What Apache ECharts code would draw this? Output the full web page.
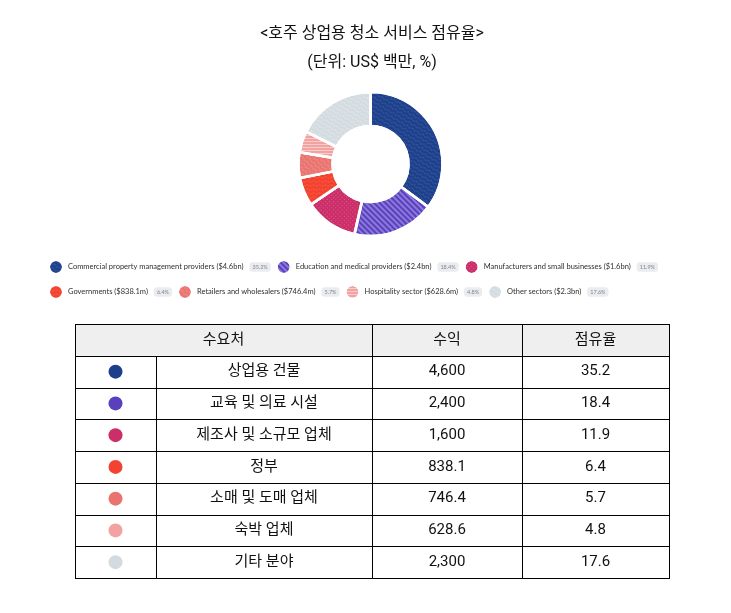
<!DOCTYPE html>
<html>
<head>
<meta charset="utf-8">
<script src="https://cdn.jsdelivr.net/npm/echarts@6/dist/echarts.min.js"></script>
<style>
html,body{margin:0;padding:0;background:#fff;}
#chart{width:731px;height:613px;}
</style>
</head>
<body>
<div id="chart"></div>
<script>
// ---------- DATA ----------
const titleText = '<호주 상업용 청소 서비스 점유율>';
const subtitleText = '(단위: US$ 백만, %)';
const categories = ['상업용 건물', '교육 및 의료 시설', '제조사 및 소규모 업체', '정부', '소매 및 도매 업체', '숙박 업체', '기타 분야'];
const legendLabels = [
  'Commercial property management providers ($4.6bn)',
  'Education and medical providers ($2.4bn)',
  'Manufacturers and small businesses ($1.6bn)',
  'Governments ($838.1m)',
  'Retailers and wholesalers ($746.4m)',
  'Hospitality sector ($628.6m)',
  'Other sectors ($2.3bn)'
];
const revenue = [4600, 2400, 1600, 838.1, 746.4, 628.6, 2300];
const share = [35.2, 18.4, 11.9, 6.4, 5.7, 4.8, 17.6];
const headers = ['수요처', '수익', '점유율'];

// ---------- STYLE ----------
const colors = ['#1d3e88', '#5a40bd', '#cb2e69', '#f3422f', '#e9736f', '#f2a2a1', '#d3dbe0'];
const decals = [
  { symbol: 'path://M0,4 Q2.5,0 5,4 T10,4', symbolSize: 1, dashArrayX: [6, 0], dashArrayY: [3, 1], color: 'rgba(120,160,230,0.35)' },
  { symbol: 'rect', symbolSize: 1, dashArrayX: [1, 0], dashArrayY: [1.5, 2], rotation: Math.PI / 4, color: 'rgba(200,190,255,0.45)' },
  { symbol: 'rect', symbolSize: 1, dashArrayX: [1, 1.5], dashArrayY: [1, 1.5], color: 'rgba(255,180,210,0.35)' },
  { symbol: 'path://M0,4 Q2.5,0 5,4 T10,4', symbolSize: 1, dashArrayX: [6, 0], dashArrayY: [3, 1], color: 'rgba(255,140,120,0.35)' },
  { symbol: 'path://M0,4 Q2.5,0 5,4 T10,4', symbolSize: 1, dashArrayX: [6, 0], dashArrayY: [3, 1], color: 'rgba(255,200,195,0.4)' },
  { symbol: 'rect', symbolSize: 1, dashArrayX: [1, 0], dashArrayY: [1, 2], color: 'rgba(255,255,255,0.45)' },
  { symbol: 'path://M0,4 Q2.5,0 5,4 T10,4', symbolSize: 1, dashArrayX: [6, 0], dashArrayY: [3, 1], color: 'rgba(255,255,255,0.4)' }
];
const FONT = "Roboto, 'Noto Sans CJK KR', sans-serif";
const LEGEND_FONT = "Lato, 'Noto Sans', sans-serif";

function fmtRevenue(v) {
  return v >= 1000 ? v.toLocaleString('en-US') : v.toFixed(1);
}

const chart = echarts.init(document.getElementById('chart'), null, { renderer: 'canvas' });

// ---------- TABLE (graphic, built from data) ----------
const T = { left: 75, top: 324, rowH: 31.75, cols: [75, 156, 372, 522, 669] };
const nRows = categories.length + 1;
const tableBottom = T.top + T.rowH * nRows;
const g = [];
g.push({ type: 'rect', shape: { x: T.cols[0], y: T.top, width: T.cols[4] - T.cols[0], height: T.rowH }, style: { fill: '#efefef' }, z: 1 });
for (let i = 0; i <= nRows; i++) {
  const y = Math.round(T.top + T.rowH * i) + 0.5;
  g.push({ type: 'line', shape: { x1: T.cols[0], y1: y, x2: T.cols[4] + 1, y2: y }, style: { stroke: '#000', lineWidth: 1 }, z: 3 });
}
T.cols.forEach((x, ci) => {
  const y1 = ci === 1 ? T.top + T.rowH : T.top;
  g.push({ type: 'line', shape: { x1: x + 0.5, y1: Math.round(y1), x2: x + 0.5, y2: Math.round(tableBottom) + 1 }, style: { stroke: '#000', lineWidth: 1 }, z: 3 });
});
const hy = T.top + T.rowH / 2;
const headerX = [(T.cols[0] + T.cols[2]) / 2, (T.cols[2] + T.cols[3]) / 2, (T.cols[3] + T.cols[4]) / 2];
headers.forEach((h, i) => {
  g.push({ type: 'text', x: headerX[i], y: hy, style: { text: h, align: 'center', verticalAlign: 'middle', font: '15px ' + FONT, fill: '#111' }, z: 4 });
});
categories.forEach((c, i) => {
  const cy = T.top + T.rowH * (i + 1) + T.rowH / 2;
  g.push({ type: 'circle', shape: { cx: (T.cols[0] + T.cols[1]) / 2, cy: cy, r: 7 }, style: { fill: colors[i] }, z: 4 });
  g.push({ type: 'text', x: (T.cols[1] + T.cols[2]) / 2, y: cy, style: { text: c, align: 'center', verticalAlign: 'middle', font: '15px ' + FONT, fill: '#111' }, z: 4 });
  g.push({ type: 'text', x: (T.cols[2] + T.cols[3]) / 2, y: cy, style: { text: fmtRevenue(revenue[i]), align: 'center', verticalAlign: 'middle', font: '15px ' + FONT, fill: '#111' }, z: 4 });
  g.push({ type: 'text', x: (T.cols[3] + T.cols[4]) / 2, y: cy, style: { text: share[i].toFixed(1), align: 'center', verticalAlign: 'middle', font: '15px ' + FONT, fill: '#111' }, z: 4 });
});
g.push({ type: 'text', x: 372, y: 34, style: { text: titleText, align: 'center', verticalAlign: 'middle', font: '16px ' + FONT, fill: '#111' }, z: 4 });
g.push({ type: 'text', x: 372, y: 63, style: { text: subtitleText, align: 'center', verticalAlign: 'middle', font: '16px ' + FONT, fill: '#111' }, z: 4 });

// ---------- LEGEND ----------
function legendFormatter(name) {
  const i = categories.indexOf(name);
  return '{n|' + legendLabels[i] + '}{s|}{b|' + share[i].toFixed(1) + '%}';
}
const legendRich = {
  n: { fontSize: 7.5, fontFamily: LEGEND_FONT, color: '#2f2f2f' },
  s: { width: 6 },
  b: { fontSize: 5.5, fontFamily: LEGEND_FONT, color: '#80858f', backgroundColor: '#eaecf0', borderRadius: 3, padding: [2, 3, 1.5, 3] }
};
const legendBase = {
  orient: 'horizontal', icon: 'circle', itemWidth: 14, itemHeight: 14, itemGap: 5,
  formatter: legendFormatter, textStyle: { rich: legendRich }, selectedMode: false
};

chart.setOption({
  animation: false,
  aria: { enabled: true, decal: { show: true } },
  legend: [
    Object.assign({}, legendBase, { data: categories.slice(0, 3), left: 43, top: 254 }),
    Object.assign({}, legendBase, { data: categories.slice(3), left: 43, top: 279 })
  ],
  series: [{
    type: 'pie',
    center: [370.5, 164],
    radius: [38, 72],
    startAngle: 90,
    clockwise: true,
    label: { show: false },
    labelLine: { show: false },
    emphasis: { disabled: true },
    itemStyle: { borderColor: '#fff', borderWidth: 2.5 },
    data: categories.map((c, i) => ({
      name: c,
      value: share[i],
      itemStyle: { color: colors[i], decal: decals[i] }
    }))
  }],
  graphic: g
});
</script>
</body>
</html>
